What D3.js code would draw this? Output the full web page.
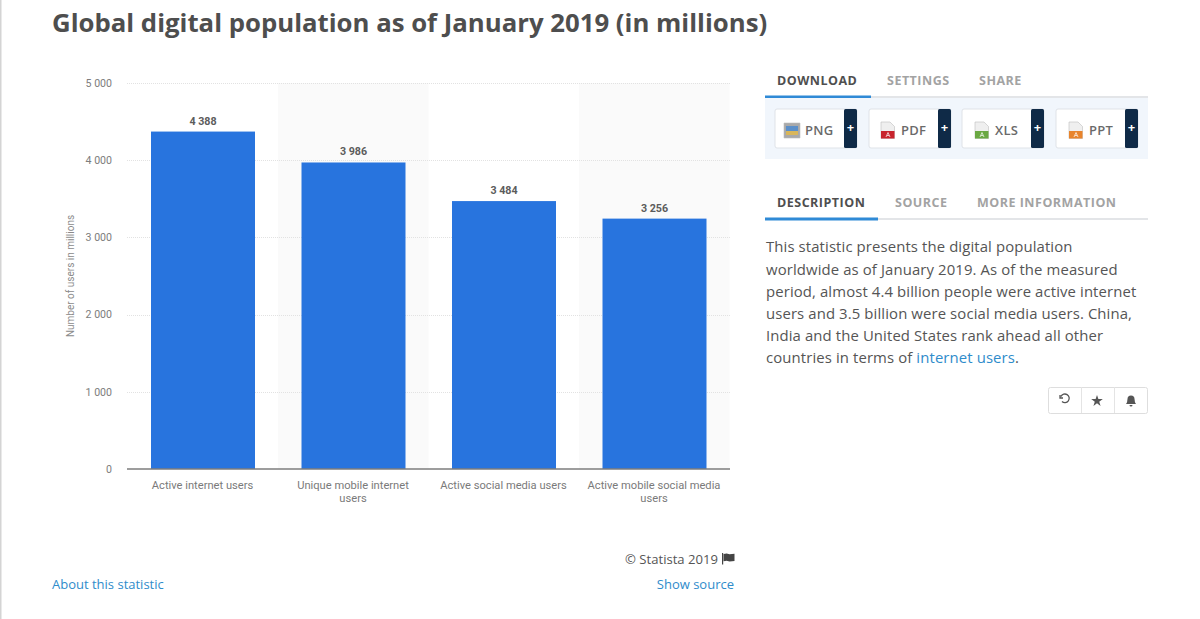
<!DOCTYPE html>
<html>
<head>
<meta charset="utf-8">
<script src="https://cdn.jsdelivr.net/npm/d3@7/dist/d3.min.js"></script>
<style>
html,body{margin:0;padding:0;background:#fff;overflow:hidden}
svg{display:block}
text{font-family:"Open Sans",sans-serif}
.roboto{font-family:Roboto,sans-serif}
</style>
</head>
<body>
<svg id="chart" width="1200" height="619"></svg>
<script>
const categories = [["Active internet users"],["Unique mobile internet","users"],["Active social media users"],["Active mobile social media","users"]];
const values = [4388, 3986, 3484, 3256];
const valueLabels = ["4 388", "3 986", "3 484", "3 256"];
const yTicks = [0, 1000, 2000, 3000, 4000, 5000];
const yTickLabels = ["0", "1 000", "2 000", "3 000", "4 000", "5 000"];
const descriptionLines = [
  "This statistic presents the digital population",
  "worldwide as of January 2019. As of the measured",
  "period, almost 4.4 billion people were active internet",
  "users and 3.5 billion were social media users. China,",
  "India and the United States rank ahead all other"
];
const downloads = [
  {label:"PNG", x:775, w:82, textX:30, iconX:9, icon:"#5b8fc9", band:"#d9b65a"},
  {label:"PDF", x:869, w:82, textX:32, iconX:12, icon:"#c8232c", band:"#c8232c"},
  {label:"XLS", x:962, w:82, textX:33, iconX:13, icon:"#6aa842", band:"#6aa842"},
  {label:"PPT", x:1056, w:82, textX:33, iconX:13, icon:"#e8842c", band:"#e8842c"}
];

const svg = d3.select("#chart");
const blue = "#2874de";

// Page edge rule
svg.append("rect").attr("x",0).attr("y",0).attr("width",1.5).attr("height",619).attr("fill","#d4d4d4");

svg.append("text").attr("x",52).attr("y",32).attr("font-size",25.75).attr("font-weight",700)
  .attr("fill","#4e4e4e").text("Global digital population as of January 2019 (in millions)");

// Chart scales: gridY carries the axis, y carries the columns
const x = d3.scaleBand().domain(d3.range(values.length)).range([127,729]);
const gridY = d3.scaleLinear().domain([0,5000]).range([469.5,83.3]);
const y = d3.scaleLinear().domain([0,5000]).range([469,84.5]);
const barW = 104;
const barCentre = i => x(i)+x.bandwidth()/2+.75;

// Alternating column shading
svg.append("g").selectAll("rect").data(d3.range(values.length).filter(i=>i%2===1)).join("rect")
  .attr("x",i=>x(i)+.5).attr("width",x.bandwidth()).attr("y",83).attr("height",386).attr("fill","#fafafa");

// Dotted gridlines
svg.append("g").selectAll("line").data(yTicks.slice(1)).join("line")
  .attr("x1",127).attr("x2",730).attr("y1",d=>Math.floor(gridY(d))+.5).attr("y2",d=>Math.floor(gridY(d))+.5)
  .attr("stroke","#e2e2e2").attr("stroke-dasharray","1 1");

// Y axis labels
const yAxis = d3.axisLeft(gridY).tickValues(yTicks).tickSize(0).tickPadding(15)
  .tickFormat((d,i)=>yTickLabels[i]);
const yG = svg.append("g").attr("transform","translate(127,-0.5)").call(yAxis);
yG.select(".domain").remove();
yG.selectAll("text").attr("class","roboto").attr("font-size",10.6).attr("fill","#7d7d7d");

svg.append("text").attr("class","roboto").attr("transform","translate(74,276) rotate(-90)")
  .attr("text-anchor","middle").attr("font-size",10).attr("fill","#8a8a8a").text("Number of users in millions");

// Bars
svg.append("g").selectAll("rect").data(values).join("rect")
  .attr("x",(d,i)=>barCentre(i)-barW/2).attr("width",barW)
  .attr("y",d=>y(d)).attr("height",d=>y(0)-y(d)).attr("fill",blue);

// Value labels
svg.append("g").selectAll("text").data(values).join("text").attr("class","roboto")
  .attr("x",(d,i)=>barCentre(i)).attr("y",d=>y(d)-7)
  .attr("text-anchor","middle").attr("font-size",10.7).attr("font-weight",700).attr("fill","#5c5c5c")
  .text((d,i)=>valueLabels[i]);

// Baseline
svg.append("line").attr("x1",127).attr("x2",730).attr("y1",469).attr("y2",469).attr("stroke","#7c7c7c").attr("stroke-width",1.5);

// Category labels
const cat = svg.append("g").selectAll("text").data(categories).join("text").attr("class","roboto")
  .attr("text-anchor","middle").attr("font-size",11.15).attr("fill","#7a7a7a");
cat.selectAll("tspan").data((d,i)=>d.map(t=>({t,i}))).join("tspan")
  .attr("x",d=>barCentre(d.i)-.5).attr("y",(d,j)=>488.5+j*13).text(d=>d.t);

// Chart footer
svg.append("text").attr("x",718).attr("y",564).attr("text-anchor","end").attr("font-size",13.1).attr("fill","#555").text("© Statista 2019");
svg.append("path").attr("d","M722 553h1.200v11.500h-1.200zM723.600 554l3-.6 3 .9 4.900-.6v7.300l-4.900.6-3-.9-3 .6z").attr("fill","#444");
svg.append("text").attr("x",52).attr("y",589).attr("font-size",13).attr("fill","#2f8ccb").text("About this statistic");
svg.append("text").attr("x",734).attr("y",589).attr("text-anchor","end").attr("font-size",13).attr("fill","#2f8ccb").text("Show source");

// Tab rows
function tabs(items, yText, yRule, activeEnd){
  svg.append("g").selectAll("text").data(items).join("text")
    .attr("x",d=>d.x).attr("y",yText).attr("font-size",12.5).attr("font-weight",700).attr("letter-spacing",.5)
    .attr("fill",(d,i)=>i===0?"#4f4f4f":"#a3a3a3").text(d=>d.t);
  svg.append("rect").attr("x",765).attr("y",yRule).attr("width",383).attr("height",2).attr("fill","#e3e5e8");
  svg.append("rect").attr("x",765).attr("y",yRule-.5).attr("width",activeEnd-765).attr("height",3).attr("fill","#2f8ad6");
}
tabs([{t:"DOWNLOAD",x:777},{t:"SETTINGS",x:887},{t:"SHARE",x:979}],85,96,871);
tabs([{t:"DESCRIPTION",x:777},{t:"SOURCE",x:895},{t:"MORE INFORMATION",x:977}],207,218,878);

// Download panel
svg.append("rect").attr("x",765).attr("y",98).attr("width",383).attr("height",61).attr("fill","#f1f6fc");
const btn = svg.append("g").selectAll("g").data(downloads).join("g").attr("transform",d=>`translate(${d.x},109)`);
btn.append("rect").attr("width",d=>d.w).attr("height",39).attr("rx",2).attr("fill","#fff").attr("stroke","#dfe3e8");
btn.append("rect").attr("x",d=>d.w-13).attr("width",13).attr("height",39).attr("rx",1.5).attr("fill","#0f2a47");
btn.append("text").attr("x",d=>d.w-6.5).attr("y",23).attr("text-anchor","middle").attr("font-size",13).attr("font-weight",700).attr("fill","#fff").text("+");
btn.append("text").attr("x",d=>d.textX).attr("y",26)
  .attr("font-size",13).attr("font-weight",600).attr("letter-spacing",.3).attr("fill","#6a6a6a").text(d=>d.label);

// File-type icons
const ic = btn.append("g").attr("transform",d=>`translate(${d.iconX},${d.label==="PNG"?14:13})`);
ic.append("path").attr("d",d=>d.label==="PNG"?"M0 0h16v15h-16z":"M0 0h9l4.500 4.500v12h-13.500z")
  .attr("fill",d=>d.label==="PNG"?"#a9a9a9":"#efefef").attr("stroke","#bdbdbd").attr("stroke-width",.6);
ic.append("rect").attr("x",d=>d.label==="PNG"?2:0).attr("y",d=>d.label==="PNG"?3:9)
  .attr("width",d=>d.label==="PNG"?12:13.5).attr("height",d=>d.label==="PNG"?5:7.500).attr("fill",d=>d.icon);
ic.filter(d=>d.label==="PNG").append("rect").attr("x",2).attr("y",8).attr("width",12).attr("height",4).attr("fill",d=>d.band);
ic.filter(d=>d.label!=="PNG").append("path").attr("d","M5 15l2-4.500 2 4.500M6 13.500h2").attr("fill","none").attr("stroke","#fff").attr("stroke-width",.7);

// Description text
const desc = svg.append("g").attr("font-size",14.9).attr("letter-spacing",.11).attr("fill","#555");
desc.selectAll("text").data(descriptionLines).join("text").attr("x",766).attr("y",(d,i)=>252.3+i*22.2).text(d=>d);
const last = desc.append("text").attr("x",766).attr("y",363.3);
last.append("tspan").text("countries in terms of ");
last.append("tspan").attr("fill","#2f8ccb").text("internet users");
last.append("tspan").text(".");

// Bookmark buttons
const tool = svg.append("g").attr("transform","translate(1048,387)");
tool.append("rect").attr("x",.5).attr("y",.5).attr("width",99).attr("height",26).attr("rx",2).attr("fill","#fff").attr("stroke","#dedede");
tool.selectAll("line").data([33,66]).join("line").attr("x1",d=>d+.5).attr("x2",d=>d+.5).attr("y1",0).attr("y2",26).attr("stroke","#e4e4e4");
tool.append("path").attr("d","M13 9.500a4.300 4.300 0 1 1 1 5M12 8v3h3").attr("fill","none").attr("stroke","#555").attr("stroke-width",1.3);
tool.append("path").attr("d",d3.symbol(d3.symbolStar,42)()).attr("transform","translate(49,14)").attr("fill","#555");
tool.append("path").attr("d","M78 17c1.500-1.500 1-3 1.500-5a3.500 3.500 0 0 1 7 0c.5 2 0 3.500 1.500 5zM81.500 18h3a1.500 1.500 0 0 1-3 0z").attr("fill","#555");
</script>
</body>
</html>
